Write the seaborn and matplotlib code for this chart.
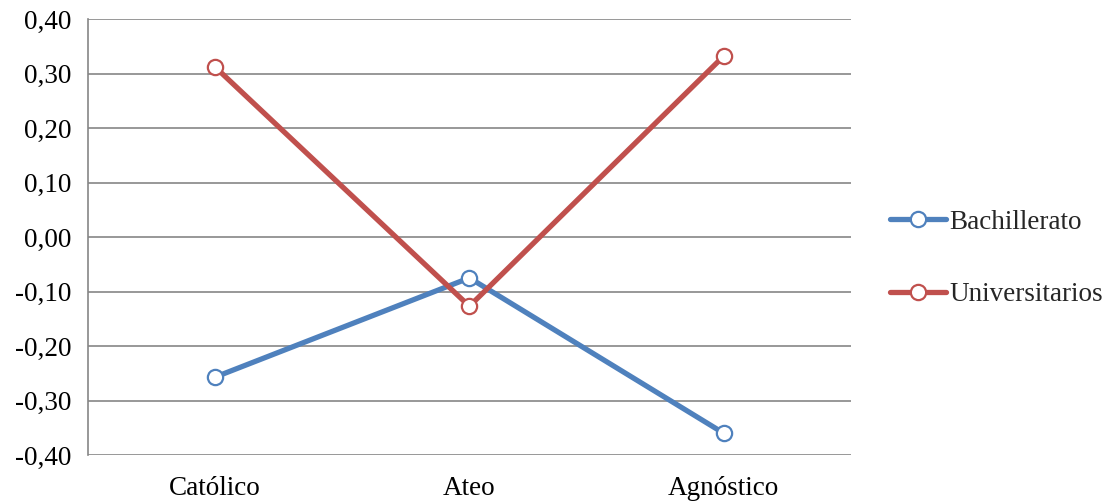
import matplotlib
matplotlib.use("Agg")
import matplotlib.pyplot as plt
import seaborn as sns
import pandas as pd
from matplotlib.ticker import FixedLocator, FuncFormatter

categories = ["Católico", "Ateo", "Agnóstico"]
bachillerato = [-0.257, -0.075, -0.36]
universitarios = [0.312, -0.127, 0.332]
series_names = ["Bachillerato", "Universitarios"]
colors = ["#4F81BD", "#C0504D"]
y_ticks = [-0.4, -0.3, -0.2, -0.1, 0.0, 0.1, 0.2, 0.3, 0.4]

sns.set_theme(style="white")
plt.rcParams["font.family"] = ["Liberation Serif", "DejaVu Serif"]

fig = plt.figure(figsize=(11.05, 5.01), dpi=100)
ax = fig.add_axes([0.0796, 0.0918, 0.6904, 0.8702])

for name, vals, col in zip(series_names, [bachillerato, universitarios], colors):
    df = pd.DataFrame({"pos": range(len(categories)), "val": vals})
    sns.lineplot(data=df, x="pos", y="val", ax=ax, color=col, lw=3.8,
                 marker="o", markersize=11, markerfacecolor="white",
                 markeredgecolor=col, markeredgewidth=1.6, label=name,
                 legend=False)

ax.set_xlim(-0.5, 2.5)
ax.set_ylim(-0.4, 0.4)
ax.set_xticks(range(len(categories)))
ax.set_xticklabels(categories)
ax.yaxis.set_major_locator(FixedLocator(y_ticks))
ax.yaxis.set_major_formatter(FuncFormatter(lambda v, p: f"{v:.2f}".replace(".", ",").replace("-0,00", "0,00")))
ax.set_xlabel("")
ax.set_ylabel("")
ax.grid(axis="y", color="#868686", lw=1.2)
ax.grid(axis="x", visible=False)
for s in ["top", "right", "bottom"]:
    ax.spines[s].set_visible(False)
ax.spines["left"].set_color("#868686")
ax.spines["left"].set_linewidth(1.2)
ax.tick_params(axis="both", labelsize=19.5, length=0, colors="black")
ax.tick_params(axis="y", pad=12)
ax.tick_params(axis="x", pad=15)
for line in ax.get_lines():
    line.set_zorder(3)

handles, labels = ax.get_legend_handles_labels()
fig.legend(handles, labels, loc="center left", bbox_to_anchor=(0.805, 0.484),
           frameon=False, fontsize=19.5, handlelength=2.1, handletextpad=0.12,
           labelspacing=1.75, borderpad=0, borderaxespad=0)

fig.savefig("out.png", dpi=100, facecolor="white")
